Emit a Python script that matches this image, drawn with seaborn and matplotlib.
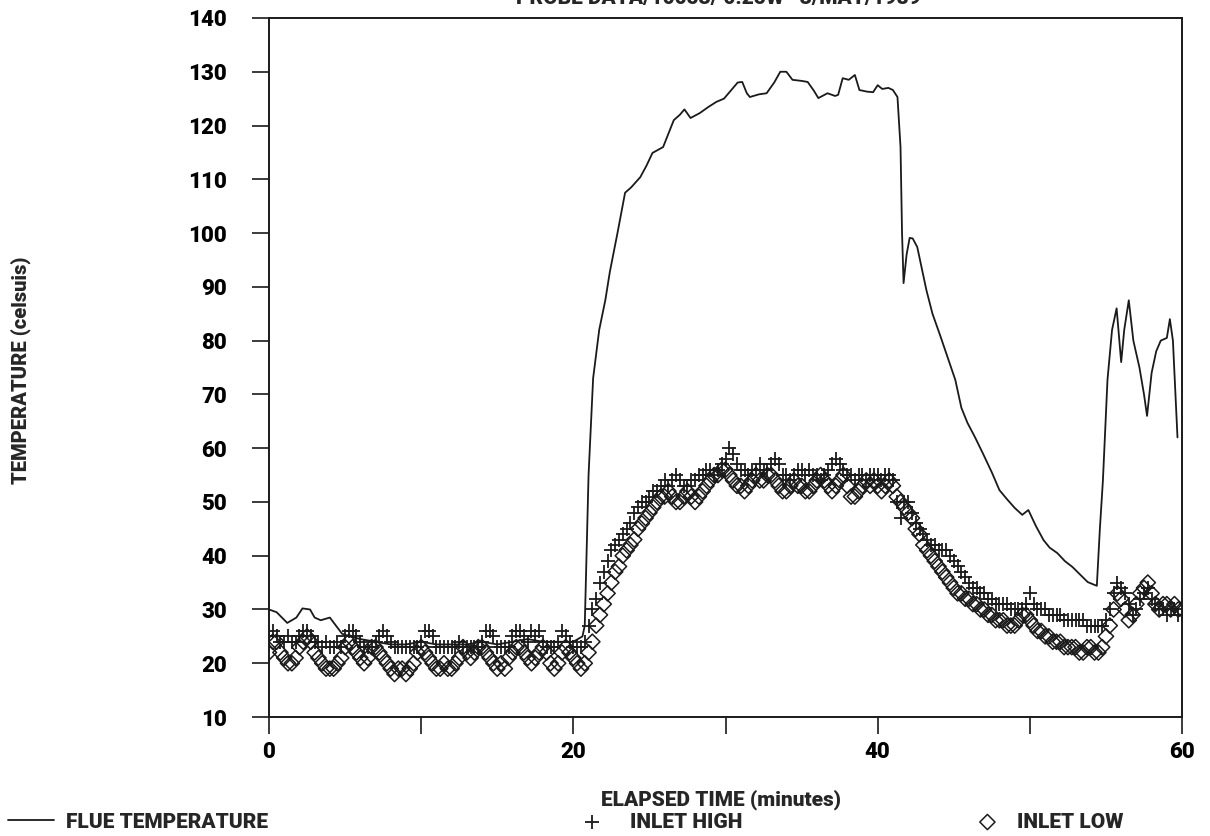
import numpy as np
import pandas as pd
import matplotlib
matplotlib.use("Agg")
import matplotlib.pyplot as plt
import seaborn as sns

# ---- data -------------------------------------------------------------
# inlet probes, sampled every 15 s (0.25 min) from 0 to 60 min
inlet_time = [i * 0.25 for i in range(241)]

inlet_high = [
    25, 26, 25, 24,  24, 25, 24, 24,  25, 26, 26, 25,  24, 24, 23, 24,
    23, 23, 24, 23,  25, 26, 26, 25,  24, 23, 23, 23,  24, 25, 26, 25,
    24, 23, 23, 23,  23, 23, 23, 23,  24, 26, 26, 25,  23, 23, 23, 23,
    23, 23, 24, 23,  23, 23, 23, 23,  24, 26, 26, 25,  23, 23, 23, 23,
    25, 26, 26, 25,  24, 26, 25, 26,  24, 23, 23, 23,  24, 26, 25, 24,
    23, 23, 23, 24,  27, 30, 32, 35,  37, 39, 41, 42,  43, 44, 45, 46,
    48, 49, 50, 50,  51, 52, 52, 53,  54, 53, 54, 55,  54, 53, 53, 54,
    54, 55, 55, 56,  56, 55, 56, 57,  58, 60, 59, 57,  56, 56, 55, 56,
    56, 57, 56, 56,  57, 58, 57, 55,  55, 54, 55, 56,  56, 55, 56, 55,
    55, 54, 55, 56,  57, 58, 57, 56,  55, 55, 54, 55,  55, 54, 55, 55,
    55, 54, 55, 55,  54, 50, 47, 50,  50, 48, 46, 45,  44, 43, 42, 42,
    41, 41, 41, 40,  39, 38, 37, 36,  35, 34, 34, 33,  33, 32, 32, 31,
    31, 31, 31, 30,  30, 30, 30, 31,  33, 31, 30, 30,  30, 29, 29, 29,
    29, 28, 28, 28,  28, 28, 28, 27,  27, 27, 27, 27,  28, 30, 33, 35,
    34, 33, 31, 29,  30, 32, 33, 34,  32, 31, 30, 30,  29, 30, 30, 29,
    29,
]

inlet_low = [
    22, 24, 24, 22,  21, 20, 20, 21,  23, 24, 25, 24,  22, 21, 20, 19,
    19, 19, 20, 21,  23, 24, 23, 22,  21, 20, 21, 23,  23, 22, 21, 20,
    19, 18, 19, 19,  18, 19, 20, 22,  23, 22, 21, 20,  19, 19, 20, 19,
    19, 20, 21, 23,  22, 21, 22, 23,  23, 22, 21, 20,  19, 20, 19, 21,
    22, 23, 23, 22,  21, 20, 21, 22,  23, 22, 20, 19,  20, 22, 23, 22,
    21, 20, 19, 20,  22, 24, 27, 29,  31, 33, 35, 37,  38, 40, 41, 42,
    43, 45, 46, 47,  48, 49, 50, 51,  51, 52, 51, 50,  50, 51, 52, 51,
    50, 51, 52, 53,  54, 55, 55, 56,  56, 55, 54, 53,  53, 52, 53, 54,
    55, 54, 54, 55,  55, 54, 53, 52,  52, 53, 54, 53,  53, 52, 52, 53,
    54, 55, 54, 53,  52, 53, 54, 55,  53, 51, 51, 52,  53, 54, 53, 54,
    53, 52, 53, 54,  53, 51, 50, 49,  48, 47, 45, 44,  42, 41, 40, 39,
    38, 37, 36, 35,  34, 33, 33, 32,  32, 31, 31, 30,  30, 29, 29, 28,
    28, 28, 27, 27,  27, 28, 29, 29,  28, 27, 26, 26,  25, 25, 24, 24,
    24, 23, 23, 23,  23, 22, 22, 23,  23, 22, 22, 23,  25, 27, 30, 33,
    32, 30, 28, 29,  31, 33, 34, 35,  33, 31, 30, 31,  31, 30, 31, 30,
    30,
]

# flue gas thermocouple trace
flue_time = [
    0.0, 0.5, 1.2, 1.8, 2.2, 2.7, 3.0, 3.4, 4.0, 4.4, 4.8, 5.3, 6.0, 7.0,
    8.0, 9.0, 10.0, 11.0, 12.0, 13.0, 14.0, 15.0, 16.0, 17.0, 18.0, 19.0,
    20.0, 20.6, 20.75, 21.0, 21.3, 21.7, 22.1, 22.4, 22.9, 23.4, 23.8, 24.4,
    24.8, 25.2, 25.9, 26.6, 27.0, 27.3, 27.7, 28.3, 28.9, 29.4, 29.9, 30.5,
    30.8, 31.1, 31.4, 31.6, 32.2, 32.7, 33.2, 33.6, 34.0, 34.4, 35.0, 35.4,
    35.8, 36.1, 36.7, 37.2, 37.4, 37.7, 38.1, 38.5, 38.8, 39.3, 39.7, 40.0,
    40.3, 40.7, 41.0, 41.3, 41.5, 41.6, 41.7, 41.9, 42.1, 42.3, 42.6, 43.2,
    43.6, 44.1, 44.7, 45.1, 45.5, 45.9, 46.4, 46.9, 47.5, 48.0, 48.5, 49.0,
    49.5, 49.9, 50.4, 50.9, 51.3, 51.8, 52.3, 52.8, 53.3, 53.8, 54.4, 54.6,
    54.8, 55.1, 55.4, 55.7, 56.0, 56.2, 56.5, 56.8, 57.2, 57.5, 57.7, 58.0,
    58.3, 58.6, 59.0, 59.2, 59.4, 59.7,
]
flue_temp = [
    30.0, 29.5, 27.5, 28.5, 30.2, 30.0, 28.5, 28.0, 28.5, 27.0, 25.5, 25.0,
    24.5, 24.0, 23.5, 23.5, 24.0, 23.5, 23.5, 23.5, 24.0, 23.5, 24.0, 24.5,
    24.0, 24.0, 24.0, 25.0, 27.0, 55.0, 73.0, 82.0, 87.5, 92.8, 100.0, 107.5,
    108.5, 110.4, 112.5, 114.9, 116.0, 121.0, 122.0, 123.0, 121.4, 122.3,
    123.5, 124.4, 125.0, 127.0, 128.0, 128.1, 126.0, 125.3, 125.8, 126.0,
    128.0, 130.0, 130.0, 128.5, 128.3, 128.1, 126.5, 125.1, 126.0, 125.5,
    125.7, 128.8, 128.5, 129.4, 126.6, 126.3, 126.2, 127.5, 126.8, 127.0,
    126.6, 125.3, 116.0, 100.0, 90.7, 96.0, 99.1, 99.0, 97.4, 89.4, 85.0,
    81.0, 76.0, 72.7, 67.5, 64.7, 62.0, 59.1, 55.5, 52.2, 50.5, 48.9, 47.6,
    48.5, 45.5, 42.9, 41.5, 40.5, 39.0, 37.9, 36.5, 35.1, 34.4, 45.0, 54.0,
    72.7, 82.0, 86.0, 76.0, 82.0, 87.5, 80.0, 75.0, 70.0, 66.0, 74.0, 78.0,
    80.0, 80.5, 84.0, 80.0, 62.0,
]

x_ticks = [0, 20, 40, 60]
x_minor = [10, 30, 50]
y_ticks = list(range(10, 141, 10))

series_names = ["FLUE TEMPERATURE", "INLET HIGH", "INLET LOW"]

# ---- style ------------------------------------------------------------
sns.set_theme(style="white")
plt.rcParams["font.family"] = ["Roboto", "DejaVu Sans"]
plt.rcParams["font.weight"] = "heavy"
ink = "#1a1a1a"
W = "heavy"

fig = plt.figure(figsize=(12.10, 8.36), dpi=100)
ax = fig.add_axes([0.2223, 0.1423, 0.9769 - 0.2223, 0.9785 - 0.1423])

inlet = pd.DataFrame({"t": inlet_time, "high": inlet_high, "low": inlet_low})
flue = pd.DataFrame({"t": flue_time, "temp": flue_temp})

sns.lineplot(data=flue, x="t", y="temp", ax=ax, color=ink, linewidth=1.3,
             label=series_names[0], legend=False)
sns.scatterplot(data=inlet, x="t", y="low", ax=ax, marker="D", s=60,
                facecolor="none", edgecolor=ink, linewidth=1.1,
                label=series_names[2], legend=False)
sns.scatterplot(data=inlet, x="t", y="high", ax=ax, marker="+", s=110,
                color=ink, linewidth=1.3,
                label=series_names[1], legend=False)

ax.set_xlim(0, 60)
ax.set_ylim(10, 140)
ax.set_xticks(x_ticks)
ax.set_xticks(x_minor, minor=True)
ax.set_yticks(y_ticks)
ax.set_xticklabels([str(v) for v in x_ticks])
ax.set_yticklabels([str(v) for v in y_ticks])
ax.tick_params(axis="both", which="both", direction="out", color=ink,
               width=1.2, labelsize=16, labelcolor="black", bottom=True,
               left=True)
ax.tick_params(axis="x", which="major", length=12, pad=5)
ax.tick_params(axis="x", which="minor", length=12)
ax.tick_params(axis="y", length=12, pad=18)
for lab in ax.get_xticklabels() + ax.get_yticklabels():
    lab.set_fontweight(W)
for sp in ax.spines.values():
    sp.set_visible(True)
    sp.set_color(ink)
    sp.set_linewidth(1.4)

ax.set_xlabel("")
ax.set_ylabel("")
fig.text(0.596, 1 - 800 / 836, "ELAPSED TIME (minutes)", ha="center",
         va="center", fontsize=15, fontweight=W)
fig.text(0.017, 1 - 370 / 836, "TEMPERATURE (celsuis)", rotation=90,
         ha="center", va="center", fontsize=14.5, fontweight=W)
fig.text(0.594, 1 - 4 / 836, "PROBE DATA/10053/ 0.25W   3/MAY/1989",
         ha="center", va="baseline", fontsize=15, fontweight=W)

# one legend entry per slot along the bottom edge
line_h, = [l for l in ax.lines if l.get_label() == series_names[0]]
coll = {c.get_label(): c for c in ax.collections}
slots = [(line_h, series_names[0], 8 / 1210, 2.2, 0.6),
         (coll[series_names[1]], series_names[1], 582 / 1210, 1.0, 1.3),
         (coll[series_names[2]], series_names[2], 977 / 1210, 1.0, 0.9)]
for h, name, x0, hl, tp in slots:
    leg = fig.legend(handles=[h], labels=[name], loc="center left",
                     bbox_to_anchor=(x0, 1 - 822 / 836), frameon=False,
                     fontsize=15, handlelength=hl, handletextpad=tp,
                     borderaxespad=0, borderpad=0)
    for t in leg.get_texts():
        t.set_fontweight(W)

fig.savefig("out.png", dpi=100)
